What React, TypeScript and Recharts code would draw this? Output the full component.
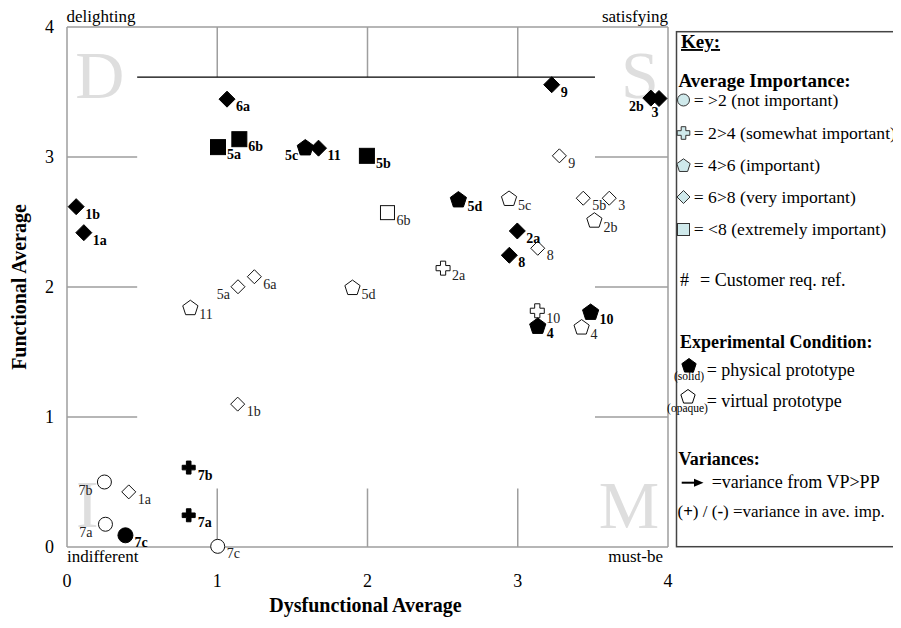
import React from 'react';
import { ScatterChart, Scatter, XAxis, YAxis, ReferenceLine } from 'recharts';

type Pt = { x: number; y: number; label: string };
type Kind = 'circle' | 'cross' | 'pentagon' | 'diamond' | 'square';

const axisTicks = [0, 1, 2, 3, 4];

// Physical prototype (solid markers)
const ppNotImportant: Pt[] = [{ x: 0.389, y: 0.09, label: '7c' }];
const ppSomewhatImportant: Pt[] = [
  { x: 0.81, y: 0.611, label: '7b' },
  { x: 0.81, y: 0.244, label: '7a' },
];
const ppImportant: Pt[] = [
  { x: 1.586, y: 3.075, label: '5c' },
  { x: 2.605, y: 2.675, label: '5d' },
  { x: 3.485, y: 1.81, label: '10' },
  { x: 3.133, y: 1.702, label: '4' },
];
const ppVeryImportant: Pt[] = [
  { x: 1.065, y: 3.445, label: '6a' },
  { x: 3.226, y: 3.556, label: '9' },
  { x: 3.886, y: 3.453, label: '2b' },
  { x: 3.94, y: 3.45, label: '3' },
  { x: 1.674, y: 3.068, label: '11' },
  { x: 0.061, y: 2.618, label: '1b' },
  { x: 0.112, y: 2.418, label: '1a' },
  { x: 2.997, y: 2.431, label: '2a' },
  { x: 2.944, y: 2.244, label: '8' },
];
const ppExtremelyImportant: Pt[] = [
  { x: 1.005, y: 3.076, label: '5a' },
  { x: 1.147, y: 3.137, label: '6b' },
  { x: 1.996, y: 3.009, label: '5b' },
];

// Virtual prototype (open markers)
const vpNotImportant: Pt[] = [
  { x: 0.249, y: 0.5, label: '7b' },
  { x: 0.256, y: 0.175, label: '7a' },
  { x: 1.003, y: 0.005, label: '7c' },
];
const vpSomewhatImportant: Pt[] = [
  { x: 2.503, y: 2.145, label: '2a' },
  { x: 3.13, y: 1.817, label: '10' },
];
const vpImportant: Pt[] = [
  { x: 2.942, y: 2.683, label: '5c' },
  { x: 3.51, y: 2.516, label: '2b' },
  { x: 3.425, y: 1.694, label: '4' },
  { x: 1.9, y: 1.998, label: '5d' },
  { x: 0.821, y: 1.843, label: '11' },
];
const vpVeryImportant: Pt[] = [
  { x: 3.277, y: 3.009, label: '9' },
  { x: 3.436, y: 2.683, label: '5b' },
  { x: 3.609, y: 2.683, label: '3' },
  { x: 3.133, y: 2.298, label: '8' },
  { x: 1.138, y: 2.002, label: '5a' },
  { x: 1.247, y: 2.079, label: '6a' },
  { x: 1.136, y: 1.099, label: '1b' },
  { x: 0.411, y: 0.424, label: '1a' },
];
const vpExtremelyImportant: Pt[] = [{ x: 2.133, y: 2.572, label: '6b' }];

const quadrantLetters = [
  { x: 0.219, y: 3.455, letter: 'D' },
  { x: 3.813, y: 3.455, letter: 'S' },
  { x: 0.136, y: 0.152, letter: 'I' },
  { x: 3.74, y: 0.144, letter: 'M' },
];

// Which labels sit left of / below their marker (gap in px)
const labelLeft: Record<string, number> = { 's:2b': 7, 's:5c': 7, 'o:5a': 8, 'o:7b': 12, 'o:7a': 13 };
const labelBelow: Record<string, boolean> = { 's:3': true };

// Partial grid layout in data units
const sepY = 3.615;
const innerLeft = 0.467;
const innerRight = 3.514;
const bottomStub = 0.45;

const FONT = '"Liberation Serif", "Times New Roman", Times, serif';
const GRID = '#9e9e9e';
const LEGEND_FILL = '#cfe9eb';

const pentagonPts = (cx: number, cy: number, r: number) => {
  const pts: string[] = [];
  for (let i = 0; i < 5; i++) {
    const a = -Math.PI / 2 + (i * 2 * Math.PI) / 5;
    pts.push(`${cx + r * Math.cos(a)},${cy + r * Math.sin(a)}`);
  }
  return pts.join(' ');
};
const crossPts = (cx: number, cy: number, a: number, w: number) =>
  [
    [-w, -a], [w, -a], [w, -w], [a, -w], [a, w], [w, w], [w, a], [-w, a], [-w, w], [-a, w], [-a, -w], [-w, -w],
  ]
    .map(([dx, dy]) => `${cx + dx},${cy + dy}`)
    .join(' ');

const marker = (kind: Kind, cx: number, cy: number, solid: boolean, fill: string, stroke: string) => {
  const sw = 1;
  switch (kind) {
    case 'circle':
      return <circle cx={cx} cy={cy} r={solid ? 7.5 : 7} fill={fill} stroke={stroke} strokeWidth={sw} />;
    case 'square': {
      const s = solid ? 15 : 14;
      return <rect x={cx - s / 2} y={cy - s / 2} width={s} height={s} fill={fill} stroke={stroke} strokeWidth={sw} />;
    }
    case 'diamond': {
      const d = solid ? 8 : 7;
      return (
        <polygon
          points={`${cx},${cy - d} ${cx + d},${cy} ${cx},${cy + d} ${cx - d},${cy}`}
          fill={fill}
          stroke={stroke}
          strokeWidth={sw}
        />
      );
    }
    case 'pentagon':
      return <polygon points={pentagonPts(cx, cy + 0.8, solid ? 8.5 : 8)} fill={fill} stroke={stroke} strokeWidth={sw} />;
    case 'cross':
      return <polygon points={crossPts(cx, cy, solid ? 6.5 : 7, solid ? 2.3 : 2.6)} fill={fill} stroke={stroke} strokeWidth={sw} strokeLinejoin="round" />;
  }
  return null;
};

const makeShape = (kind: Kind, solid: boolean) => (props: any) => {
  const { cx, cy, payload } = props;
  if (cx == null || cy == null) return <g />;
  const key = (solid ? 's:' : 'o:') + payload.label;
  let tx = cx + 9;
  let ty = cy + 12;
  let anchor: 'start' | 'end' | 'middle' = 'start';
  if (labelLeft[key] !== undefined) {
    tx = cx - labelLeft[key];
    anchor = 'end';
    ty = cy + 12.5;
  } else if (labelBelow[key]) {
    tx = cx - 4;
    ty = cy + 18;
    anchor = 'middle';
  }
  return (
    <g>
      {marker(kind, cx, cy, solid, solid ? '#000' : '#fff', solid ? '#000' : '#111')}
      <text
        x={tx}
        y={ty}
        textAnchor={anchor}
        fontFamily={FONT}
        fontSize={14}
        fontWeight={solid ? 'bold' : 'normal'}
        fill={solid ? '#000' : '#222'}
      >
        {payload.label}
      </text>
    </g>
  );
};

const letterShape = (props: any) => {
  const { cx, cy, payload } = props;
  if (cx == null || cy == null) return <g />;
  return (
    <text x={cx} y={cy} textAnchor="middle" fontFamily={FONT} fontSize={68} fill="#dedede">
      {payload.letter}
    </text>
  );
};

const XTick = (props: any) => {
  const { x, y, payload } = props;
  return (
    <text x={x} y={y + 40} textAnchor="middle" fontFamily={FONT} fontSize={18} fill="#000">
      {payload.value}
    </text>
  );
};
const YTick = (props: any) => {
  const { x, y, payload } = props;
  return (
    <text x={x - 13} y={y + 6} textAnchor="end" fontFamily={FONT} fontSize={18} fill="#000">
      {payload.value}
    </text>
  );
};

const W = 893;
const H = 620;

const Legend = () => {
  const ix = 675.5;
  const tx = 685.8;
  const rows: { kind: Kind; cy: number; text: string }[] = [
    { kind: 'circle', cy: 92, text: '= >2 (not important)' },
    { kind: 'cross', cy: 125, text: '= 2>4 (somewhat important)' },
    { kind: 'pentagon', cy: 157, text: '= 4>6 (important)' },
    { kind: 'diamond', cy: 189, text: '= 6>8 (very important)' },
    { kind: 'square', cy: 221.5, text: '= <8 (extremely important)' },
  ];
  const head = { fontFamily: FONT, fontSize: 19, fill: '#000' } as const;
  const row = { fontFamily: FONT, fontSize: 17.6, fill: '#000' } as const;
  const t = { fontFamily: FONT, fontSize: 18, fill: '#000' } as const;
  return (
    <g>
      <rect x={668.5} y={23.7} width={260} height={515} fill="#fff" stroke="#444" strokeWidth={1.5} />
      <text x={673} y={40} {...head} fontWeight="bold" textDecoration="underline">Key:</text>
      <text x={670.5} y={78.7} {...head} fontWeight="bold">Average Importance:</text>
      {rows.map((r) => (
        <g key={r.text}>
          {r.kind === 'circle' && <circle cx={ix} cy={r.cy} r={6} fill={LEGEND_FILL} stroke="#333" strokeWidth={1} />}
          {r.kind === 'cross' && <polygon points={crossPts(ix, r.cy, 6.3, 2.3)} fill={LEGEND_FILL} stroke="#333" strokeWidth={1} />}
          {r.kind === 'pentagon' && <polygon points={pentagonPts(ix, r.cy + 0.8, 7)} fill={LEGEND_FILL} stroke="#333" strokeWidth={1} />}
          {r.kind === 'diamond' && <polygon points={`${ix},${r.cy - 6.5} ${ix + 6.5},${r.cy} ${ix},${r.cy + 6.5} ${ix - 6.5},${r.cy}`} fill={LEGEND_FILL} stroke="#333" strokeWidth={1} />}
          {r.kind === 'square' && <rect x={ix - 6} y={r.cy - 6} width={12} height={12} fill={LEGEND_FILL} stroke="#333" strokeWidth={1} />}
          <text x={tx} y={r.cy + 5.5} {...row}>{r.text}</text>
        </g>
      ))}
      <text x={672} y={278} {...t}>#</text>
      <text x={692} y={278} {...t}>= Customer req. ref.</text>
      <text x={672} y={340.3} {...t} fontWeight="bold">Experimental Condition:</text>
      <polygon points={pentagonPts(681, 358, 7.5)} fill="#000" stroke="#000" strokeWidth={1} />
      <text x={681} y={372} textAnchor="middle" fontFamily={FONT} fontSize={11.5} fill="#000">(solid)</text>
      <text x={698.7} y={367.5} {...t}>= physical prototype</text>
      <polygon points={pentagonPts(680, 389, 7.5)} fill="#fff" stroke="#000" strokeWidth={1} />
      <text x={679.5} y={403.7} textAnchor="middle" fontFamily={FONT} fontSize={11.5} fill="#000">(opaque)</text>
      <text x={698.7} y={398.5} {...t}>= virtual prototype</text>
      <text x={670.5} y={457} {...t} fontWeight="bold">Variances:</text>
      <line x1={673.7} y1={474.7} x2={688} y2={474.7} stroke="#000" strokeWidth={2} />
      <polygon points={`${686},${470.7} ${695.5},${474.7} ${686},${478.7}`} fill="#000" />
      <text x={703.7} y={479.5} {...t}>=variance from VP&gt;PP</text>
      <text x={669.5} y={509} fontFamily={FONT} fontSize={17} fill="#000">
        (<tspan fontWeight="bold">+</tspan>) / (<tspan fontWeight="bold">-</tspan>) =variance in ave. imp.
      </text>
    </g>
  );
};

const Overlay = () => (
  <svg width={W} height={H} style={{ position: 'absolute', left: 0, top: 0, pointerEvents: 'none', overflow: 'hidden' }}>
    <text x={58.5} y={14} fontFamily={FONT} fontSize={17} fill="#000">delighting</text>
    <text x={660} y={14} textAnchor="end" fontFamily={FONT} fontSize={17} fill="#000">satisfying</text>
    <text x={59} y={553.5} fontFamily={FONT} fontSize={17} fill="#000">indifferent</text>
    <text x={655} y={553.7} textAnchor="end" fontFamily={FONT} fontSize={17} fill="#000">must-be</text>
    <text x={357.5} y={604.3} textAnchor="middle" fontFamily={FONT} fontSize={20} fontWeight="bold" fill="#000">
      Dysfunctional Average
    </text>
    <text
      x={0}
      y={0}
      transform="translate(18,279) rotate(-90)"
      textAnchor="middle"
      fontFamily={FONT}
      fontSize={20}
      fontWeight="bold"
      fill="#000"
    >
      Functional Average
    </text>
    <Legend />
  </svg>
);

const gridSegments: { seg: [{ x: number; y: number }, { x: number; y: number }]; color: string; w: number }[] = [
  ...[1, 2, 3].map((v) => ({ seg: [{ x: v, y: 4 }, { x: v, y: sepY }] as any, color: GRID, w: 1.5 })),
  ...[1, 2, 3].map((v) => ({ seg: [{ x: v, y: 0 }, { x: v, y: bottomStub }] as any, color: GRID, w: 1.5 })),
  ...[1, 2, 3].map((v) => ({ seg: [{ x: 0, y: v }, { x: innerLeft, y: v }] as any, color: GRID, w: 1.5 })),
  ...[1, 2, 3].map((v) => ({ seg: [{ x: innerRight, y: v }, { x: 4, y: v }] as any, color: GRID, w: 1.5 })),
  { seg: [{ x: 0, y: 4 }, { x: 4, y: 4 }], color: GRID, w: 1.5 },
  { seg: [{ x: 4, y: 0 }, { x: 4, y: 4 }], color: GRID, w: 1.5 },
  { seg: [{ x: innerLeft, y: sepY }, { x: innerRight, y: sepY }], color: '#000', w: 1.3 },
];

export default function App() {
  return (
    <div style={{ position: 'relative', width: W, height: H, overflow: 'hidden' }}>
      <ScatterChart width={W} height={H} margin={{ top: 19, right: 233, bottom: 41, left: 19 }}>
        <XAxis
          type="number"
          dataKey="x"
          domain={[0, 4]}
          ticks={axisTicks}
          height={40}
          tickSize={0}
          tickMargin={0}
          tickLine={false}
          axisLine={{ stroke: GRID, strokeWidth: 1.5 }}
          tick={<XTick />}
        />
        <YAxis
          type="number"
          dataKey="y"
          domain={[0, 4]}
          ticks={axisTicks}
          width={40}
          tickSize={0}
          tickMargin={0}
          tickLine={false}
          axisLine={{ stroke: GRID, strokeWidth: 1.5 }}
          tick={<YTick />}
        />
        {gridSegments.map((g, i) => (
          <ReferenceLine key={i} segment={g.seg} stroke={g.color} strokeWidth={g.w} />
        ))}
        <Scatter data={quadrantLetters} shape={letterShape} isAnimationActive={false} />
        <Scatter data={vpNotImportant} shape={makeShape('circle', false)} isAnimationActive={false} />
        <Scatter data={vpSomewhatImportant} shape={makeShape('cross', false)} isAnimationActive={false} />
        <Scatter data={vpImportant} shape={makeShape('pentagon', false)} isAnimationActive={false} />
        <Scatter data={vpVeryImportant} shape={makeShape('diamond', false)} isAnimationActive={false} />
        <Scatter data={vpExtremelyImportant} shape={makeShape('square', false)} isAnimationActive={false} />
        <Scatter data={ppNotImportant} shape={makeShape('circle', true)} isAnimationActive={false} />
        <Scatter data={ppSomewhatImportant} shape={makeShape('cross', true)} isAnimationActive={false} />
        <Scatter data={ppImportant} shape={makeShape('pentagon', true)} isAnimationActive={false} />
        <Scatter data={ppVeryImportant} shape={makeShape('diamond', true)} isAnimationActive={false} />
        <Scatter data={ppExtremelyImportant} shape={makeShape('square', true)} isAnimationActive={false} />
      </ScatterChart>
      <Overlay />
    </div>
  );
}
